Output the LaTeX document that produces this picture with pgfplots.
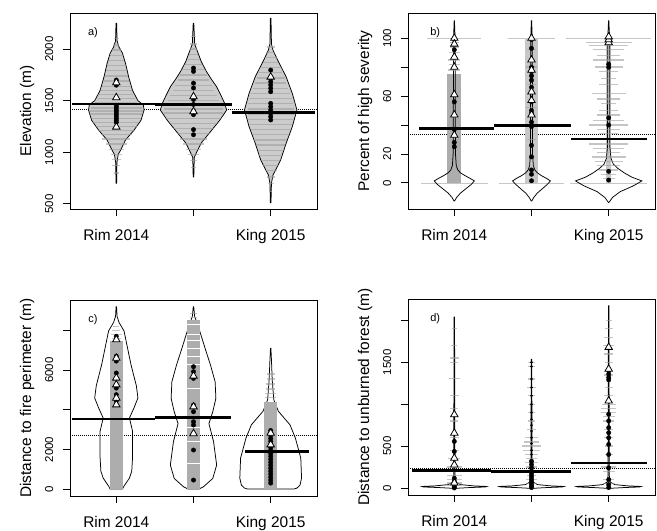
\documentclass[border=0pt]{standalone}
\usepackage{fontspec}
\setmainfont{Liberation Sans}
\usepackage{pgfplots}
\pgfplotsset{compat=1.18}
\definecolor{vfill}{gray}{0.8}
\definecolor{fuzz}{gray}{0.62}
\definecolor{band}{gray}{0.68}
\definecolor{pale}{gray}{0.78}
\pgfplotsset{
  bean/.style={scale only axis, width=247bp, height=196bp, anchor=south west,
    xmin=0.4, xmax=3.6, xtick={1,2,3}, xticklabels={Rim 2014,,King 2015},
    xtick pos=left, ytick pos=left, tick align=outside, major tick length=7bp,
    scaled y ticks=false,
    axis line style={line width=0.9bp}, major tick style={line width=0.9bp, black},
    xticklabel style={font=\fontsize{15.5}{17}\selectfont, yshift=-24.5bp, anchor=base},
    yticklabel style={font=\fontsize{11.5}{13}\selectfont, xshift=-10bp, rotate=90, anchor=base},
    ylabel style={font=\fontsize{15.5}{17}\selectfont, at={(axis description cs:-0.174,0.5)}, anchor=center}},
  outline/.style={black, line width=0.75bp, forget plot},
  bline/.style={forget plot, draw=none, mark=none,
    error bars/.cd, x dir=both, x explicit, error mark=none,
    error bar style={draw=#1, line width=1.3bp, opacity=0.6}},
  tline/.style={forget plot, draw=none, mark=none,
    error bars/.cd, x dir=both, x explicit, error mark=none,
    error bar style={draw=#1, line width=0.6bp}},
  dots/.style={only marks, mark=*, mark size=2.2bp, black},
  sdots/.style={only marks, mark=*, mark size=1.1bp, black},
  tris/.style={only marks, mark=triangle*, mark size=4.3bp, mark options={fill=white, draw=black, line width=0.8bp}},
  meanl/.style={black, line width=2.6bp},
  allmean/.style={black, line width=1bp, densely dotted},
}
\tikzset{plab/.style={font=\fontsize{11}{12}\selectfont}}
\begin{document}
\begin{tikzpicture}
\useasboundingbox (0,0) rectangle (657bp,-531bp);

% ---------------- a) elevation
\begin{axis}[bean, at={(70bp,-209bp)}, ymin=450, ymax=2350,
  ytick={500,1000,1500,2000}, yticklabels={500,1000,1500,2000}, ylabel={Elevation (m)}]
\addplot[allmean] coordinates {(0.4,1419) (3.6,1419)};
\addplot[outline, fill=vfill] coordinates {(0.996,700) (0.992,900) (0.975,980) (0.945,1020) (0.88,1120) (0.77,1215) (0.68,1310) (0.64,1410) (0.65,1460) (0.72,1500) (0.79,1600) (0.84,1730) (0.88,1860) (0.92,1960) (0.965,2020) (0.99,2080) (0.996,2250) (1.004,2250) (1.01,2080) (1.035,2020) (1.08,1960) (1.12,1860) (1.16,1730) (1.21,1600) (1.28,1500) (1.35,1460) (1.36,1410) (1.32,1310) (1.23,1215) (1.12,1120) (1.055,1020) (1.025,980) (1.008,900) (1.004,700)} --cycle;
\addplot[outline, fill=vfill] coordinates {(1.996,760) (1.99,950) (1.96,1000) (1.9,1090) (1.79,1190) (1.66,1310) (1.57,1410) (1.6,1480) (1.65,1560) (1.7,1635) (1.77,1710) (1.83,1780) (1.9,1880) (1.95,1980) (1.985,2050) (1.996,2250) (2.004,2250) (2.015,2050) (2.05,1980) (2.1,1880) (2.17,1780) (2.23,1710) (2.3,1635) (2.35,1560) (2.4,1480) (2.43,1410) (2.34,1310) (2.21,1190) (2.1,1090) (2.04,1000) (2.01,950) (2.004,760)} --cycle;
\addplot[outline, fill=vfill] coordinates {(2.996,510) (2.99,700) (2.97,780) (2.935,830) (2.87,926) (2.8,1087) (2.72,1248) (2.66,1410) (2.72,1571) (2.8,1732) (2.91,1894) (2.97,1990) (2.99,2050) (2.996,2300) (3.004,2300) (3.01,2050) (3.03,1990) (3.09,1894) (3.2,1732) (3.28,1571) (3.34,1410) (3.28,1248) (3.2,1087) (3.13,926) (3.065,830) (3.03,780) (3.01,700) (3.004,510)} --cycle;
\addplot[bline=fuzz] table[x=x, y=y, x error=e] {
x y e
1 800 0.03
1 870 0.05
1 930 0.06
1 980 0.07
1 1030 0.1
1 1080 0.14
1 1130 0.18
1 1170 0.2
1 1210 0.24
1 1250 0.27
1 1290 0.3
1 1330 0.32
1 1370 0.33
1 1400 0.34
1 1430 0.33
1 1480 0.27
1 1520 0.24
1 1560 0.22
1 1600 0.2
1 1640 0.18
1 1690 0.16
1 1740 0.15
1 1790 0.13
1 1840 0.12
1 1890 0.1
1 1940 0.08
1 1990 0.06
1 2040 0.04
1 2100 0.03
2 850 0.03
2 920 0.05
2 980 0.07
2 1030 0.1
2 1080 0.13
2 1130 0.17
2 1180 0.22
2 1230 0.27
2 1280 0.31
2 1330 0.35
2 1380 0.38
2 1420 0.38
2 1460 0.36
2 1500 0.33
2 1550 0.3
2 1600 0.27
2 1650 0.24
2 1700 0.2
2 1750 0.17
2 1800 0.14
2 1850 0.11
2 1900 0.08
2 1950 0.06
2 2000 0.05
2 2050 0.04
2 2120 0.03
3 620 0.02
3 700 0.04
3 760 0.05
3 820 0.08
3 870 0.1
3 920 0.12
3 970 0.15
3 1020 0.17
3 1070 0.19
3 1120 0.21
3 1170 0.23
3 1220 0.25
3 1270 0.27
3 1320 0.29
3 1370 0.3
3 1420 0.3
3 1470 0.29
3 1520 0.27
3 1570 0.25
3 1620 0.23
3 1670 0.2
3 1720 0.18
3 1770 0.15
3 1820 0.12
3 1870 0.1
3 1920 0.08
3 1970 0.06
3 2020 0.05
};
\addplot[dots] coordinates {(1,1290) (1,1310) (1,1330) (1,1350) (1,1370) (1,1390) (1,1410) (1,1430) (1,1450) (1,1650) (1,1700)
  (2,1816) (2,1784) (2,1670) (2,1623) (2,1512) (2,1464) (2,1400) (2,1365) (2,1220) (2,1170)
  (3,1797) (3,1716) (3,1684) (3,1652) (3,1620) (3,1587) (3,1474) (3,1442) (3,1410) (3,1377) (3,1345) (3,1313)};
\addplot[tris] coordinates {(1,1245) (1,1530) (1,1675) (2,1540) (2,1395) (3,1730)};
\addplot[meanl] coordinates {(0.43,1466) (1.5,1466)};
\addplot[meanl] coordinates {(1.5,1463) (2.5,1463)};
\addplot[meanl] coordinates {(2.5,1385) (3.57,1385)};
\node[plab] at (rel axis cs:0.093,0.9) {a)};
\end{axis}

% ---------------- b) percent of high severity
\begin{axis}[bean, at={(408bp,-209bp)}, ymin=-18, ymax=117.4,
  ytick={0,20,40,60,80,100}, yticklabels={0,20,,60,,100}, ylabel={Percent of high severity}]
\addplot[allmean] coordinates {(0.4,33.8) (3.6,33.8)};
\addplot[tline=pale] table[x=x, y=y, x error=e] {
x y e
1 0 0.43
2 0 0.42
3 0 0.5
1 100 0.35
2 100 0.3
3 100 0.55
};
\addplot[fill=band, draw=none, forget plot] coordinates {(0.91,0) (1.09,0) (1.09,75) (0.91,75)} --cycle;
\addplot[fill=pale, draw=none, forget plot] coordinates {(1.92,0) (2.08,0) (2.08,100) (1.92,100)} --cycle;
\addplot[fill=pale, draw=none, forget plot] coordinates {(2.97,0) (3.03,0) (3.03,100) (2.97,100)} --cycle;
\addplot[outline] coordinates {(0.997,-12.5) (0.97,-10) (0.92,-7) (0.85,-4) (0.78,-1) (0.74,1.4) (0.79,3) (0.86,5) (0.92,7) (0.955,9) (0.975,12) (0.985,20) (0.988,60) (0.99,100) (0.994,106) (0.998,112) (1.002,112) (1.006,106) (1.01,100) (1.012,60) (1.015,20) (1.025,12) (1.045,9) (1.08,7) (1.14,5) (1.21,3) (1.26,1.4) (1.22,-1) (1.15,-4) (1.08,-7) (1.03,-10) (1.003,-12.5)} --cycle;
\addplot[outline] coordinates {(1.997,-12.5) (1.97,-10) (1.925,-7) (1.86,-4) (1.795,-1) (1.755,1.4) (1.8,3) (1.87,5) (1.925,7) (1.957,9) (1.976,12) (1.986,20) (1.988,60) (1.99,100) (1.994,106) (1.998,112) (2.002,112) (2.006,106) (2.01,100) (2.012,60) (2.014,20) (2.024,12) (2.043,9) (2.075,7) (2.13,5) (2.2,3) (2.245,1.4) (2.205,-1) (2.14,-4) (2.075,-7) (2.03,-10) (2.003,-12.5)} --cycle;
\addplot[outline] coordinates {(2.997,-13.5) (2.95,-10) (2.85,-6) (2.68,-2) (2.57,1.4) (2.7,4) (2.8,7) (2.88,10) (2.94,13) (2.97,17) (2.985,25) (2.988,100) (2.992,105) (2.998,112) (3.002,112) (3.008,105) (3.012,100) (3.015,25) (3.03,17) (3.06,13) (3.12,10) (3.2,7) (3.3,4) (3.43,1.4) (3.32,-2) (3.15,-6) (3.05,-10) (3.003,-13.5)} --cycle;
\addplot[bline=fuzz] table[x=x, y=y, x error=e] {
x y e
1 78 0.08
1 82 0.07
1 85 0.08
1 90 0.07
1 94 0.06
1 97 0.06
1 100 0.05
2 92 0.06
2 80 0.07
2 68 0.06
2 52 0.07
2 30 0.06
3 97 0.3
3 95 0.25
3 92 0.2
3 88 0.15
3 85 0.2
3 80 0.18
3 77 0.12
3 72 0.1
3 68 0.12
3 62 0.22
3 58 0.15
3 55 0.1
3 50 0.12
3 47 0.15
3 43 0.2
3 40 0.25
3 37 0.15
3 34 0.12
3 30 0.2
3 27 0.25
3 24 0.2
3 21 0.15
3 18 0.22
3 15 0.18
3 12 0.15
3 9 0.12
3 6 0.1
3 3 0.08
};
\addplot[dots] coordinates {(1,99) (1,92) (1,56) (1,37) (1,28) (1,25)
  (2,99) (2,93) (2,80) (2,77) (2,74) (2,71) (2,66) (2,56) (2,50) (2,48) (2,42) (2,39) (2,26) (2,18) (2,9) (2,6) (2,1.5)
  (3,99) (3,82) (3,80) (3,45) (3,40) (3,8) (3,2)};
\addplot[tris] coordinates {(1,100) (1,96) (1,87) (1,80) (1,61) (1,47) (1,33)
  (2,100) (2,85) (2,78) (2,63) (2,57) (2,47)
  (3,97) (3,99) (3,101)};
\addplot[meanl] coordinates {(0.54,37.7) (1.52,37.7)};
\addplot[meanl] coordinates {(1.52,39.6) (2.51,39.6)};
\addplot[meanl] coordinates {(2.51,30.3) (3.5,30.3)};
\node[plab] at (rel axis cs:0.11,0.9) {b)};
\end{axis}

% ---------------- c) distance to fire perimeter
\begin{axis}[bean, at={(70bp,-496bp)}, ymin=-350, ymax=9530,
  ytick={0,2000,4000,6000,8000}, yticklabels={0,2000,,6000,}, ylabel={Distance to fire perimeter (m)}]
\addplot[allmean] coordinates {(0.4,2723) (3.6,2723)};
\addplot[outline] coordinates {(0.92,0) (0.9,150) (0.83,555) (0.8,900) (0.79,1560) (0.79,2920) (0.83,3580) (0.77,4100) (0.72,4590) (0.74,5200) (0.81,6270) (0.9,7970) (0.965,8400) (0.99,8700) (0.997,9190) (1.003,9190) (1.01,8700) (1.035,8400) (1.1,7970) (1.19,6270) (1.26,5200) (1.28,4590) (1.23,4100) (1.17,3580) (1.21,2920) (1.21,1560) (1.2,900) (1.17,555) (1.1,150) (1.08,0)} --cycle;
\addplot[outline] coordinates {(1.93,0) (1.87,118) (1.75,538) (1.7,1210) (1.74,2387) (1.8,3300) (1.75,3900) (1.71,4573) (1.72,5412) (1.78,6253) (1.85,7095) (1.93,8100) (1.985,8700) (1.997,9190) (2.003,9190) (2.015,8700) (2.07,8100) (2.15,7095) (2.22,6253) (2.28,5412) (2.29,4573) (2.25,3900) (2.2,3300) (2.26,2387) (2.3,1210) (2.25,538) (2.13,118) (2.07,0)} --cycle;
\addplot[outline] coordinates {(2.7,0) (2.66,50) (2.62,200) (2.6,555) (2.61,1560) (2.68,2570) (2.75,3240) (2.9,3918) (2.96,4500) (2.98,5500) (2.99,6500) (2.997,7100) (3.003,7100) (3.01,6500) (3.02,5500) (3.04,4500) (3.1,3918) (3.25,3240) (3.32,2570) (3.39,1560) (3.4,555) (3.38,200) (3.34,50) (3.3,0)} --cycle;
\addplot[fill=band, draw=none, forget plot] coordinates {(0.915,0) (1.085,0) (1.085,7450) (0.915,7450)} --cycle;
\addplot[fill=band, draw=none, forget plot] coordinates {(1.915,0) (2.085,0) (2.085,8500) (1.915,8500)} --cycle;
\addplot[fill=band, draw=none, forget plot] coordinates {(2.915,0) (3.085,0) (3.085,4400) (2.915,4400)} --cycle;
\addplot[tline=white] table[x=x, y=y, x error=e] {
x y e
2 8300 0.085
2 7800 0.085
2 7500 0.085
2 7100 0.085
2 6700 0.085
2 6300 0.085
2 5100 0.085
2 3100 0.085
2 2400 0.085
2 1300 0.085
};
\addplot[bline=fuzz] table[x=x, y=y, x error=e] {
x y e
1 7600 0.06
1 7800 0.07
1 8000 0.05
1 8200 0.04
2 8650 0.05
2 8850 0.04
3 4600 0.07
3 4800 0.07
3 5050 0.06
3 5300 0.06
3 5550 0.05
3 5800 0.05
};
\addplot[dots] coordinates {(1,7700) (1,6700) (1,6450) (1,5850) (1,5090) (1,4760) (1,4440)
  (2,6168) (2,5916) (2,5580) (2,4236) (2,3900) (2,3395) (2,3228) (2,1967) (2,453)
  (3,2950) (3,2700) (3,2550) (3,2400) (3,2100) (3,1950) (3,1800) (3,1650) (3,1500) (3,1350) (3,1200) (3,1050) (3,900) (3,750) (3,600) (3,450) (3,300)};
\addplot[tris] coordinates {(1,7530) (1,6600) (1,5600) (1,5260) (1,4590) (1,4250)
  (2,5700) (2,4150) (2,2800) (3,2820) (3,2235)};
\addplot[meanl] coordinates {(0.43,3530) (1.5,3530)};
\addplot[meanl] coordinates {(1.5,3616) (2.49,3616)};
\addplot[meanl] coordinates {(2.67,1882) (3.5,1882)};
\node[plab] at (rel axis cs:0.093,0.9) {c)};
\end{axis}

% ---------------- d) distance to unburned forest
\begin{axis}[bean, at={(408bp,-495bp)}, ymin=-84, ymax=2256,
  ytick={0,500,1000,1500,2000}, yticklabels={0,500,,1500,}, ylabel={Distance to unburned forest (m)}]
\addplot[allmean] coordinates {(0.4,236) (3.6,236)};
\addplot[outline] coordinates {(0.997,-5) (0.8,5) (0.6,12) (0.58,18) (0.75,25) (0.92,40) (0.98,70) (0.992,150) (0.997,2040) (1.003,2040) (1.008,150) (1.02,70) (1.08,40) (1.25,25) (1.42,18) (1.4,12) (1.2,5) (1.003,-5)} --cycle;
\addplot[outline] coordinates {(1.997,-5) (1.8,5) (1.6,12) (1.58,18) (1.75,25) (1.92,40) (1.98,70) (1.992,150) (1.997,1536) (2.003,1536) (2.008,150) (2.02,70) (2.08,40) (2.25,25) (2.42,18) (2.4,12) (2.2,5) (2.003,-5)} --cycle;
\addplot[outline] coordinates {(2.997,-5) (2.8,5) (2.6,12) (2.58,18) (2.75,25) (2.92,40) (2.98,70) (2.992,150) (2.997,2176) (3.003,2176) (3.008,150) (3.02,70) (3.08,40) (3.25,25) (3.42,18) (3.4,12) (3.2,5) (3.003,-5)} --cycle;
\addplot[bline=fuzz] table[x=x, y=y, x error=e] {
x y e
1 1900 0.03
1 1700 0.04
1 1550 0.06
1 1500 0.05
1 1310 0.07
1 1100 0.06
1 950 0.05
1 800 0.05
1 600 0.06
1 450 0.06
1 350 0.08
1 250 0.1
1 200 0.12
1 150 0.1
1 100 0.1
1 60 0.1
1 30 0.1
2 1500 0.05
2 1450 0.05
2 1300 0.04
2 1200 0.06
2 1100 0.05
2 1000 0.04
2 900 0.05
2 800 0.05
2 700 0.06
2 600 0.08
2 550 0.1
2 500 0.12
2 450 0.11
2 400 0.08
2 350 0.07
2 300 0.08
2 250 0.07
2 200 0.07
2 150 0.06
2 100 0.07
2 50 0.06
3 2000 0.04
3 1900 0.05
3 1800 0.06
3 1700 0.07
3 1600 0.06
3 1500 0.05
3 1350 0.06
3 1200 0.05
3 1100 0.06
3 1000 0.09
3 950 0.1
3 900 0.1
3 850 0.08
3 800 0.07
3 700 0.06
3 600 0.06
3 500 0.05
3 400 0.05
3 300 0.09
3 250 0.1
3 200 0.08
3 100 0.07
3 50 0.08
};
\addplot[sdots] coordinates {(2,1500) (2,1450) (2,1300) (2,1200) (2,1100) (2,1000) (2,900) (2,820) (2,750) (2,680) (2,600) (2,530) (2,450) (2,400)};
\addplot[dots] coordinates {(1,556) (1,436) (1,116) (1,80) (1,36) (1,15) (1,0)
  (2,320) (2,280) (2,240) (2,200) (2,170) (2,140) (2,110) (2,80) (2,50) (2,25) (2,5)
  (3,1400) (3,1360) (3,1320) (3,1290) (3,880) (3,800) (3,720) (3,660) (3,600) (3,520) (3,400) (3,240) (3,100) (3,40) (3,5)};
\addplot[tris] coordinates {(1,876) (1,656) (1,356) (1,276) (1,60) (3,1680) (3,1420) (3,1040)};
\addplot[meanl] coordinates {(0.45,205) (1.48,205)};
\addplot[meanl] coordinates {(1.48,195) (2.51,195)};
\addplot[meanl] coordinates {(2.51,296) (3.5,296)};
\node[plab] at (rel axis cs:0.11,0.9) {d)};
\end{axis}
\end{tikzpicture}
\end{document}
